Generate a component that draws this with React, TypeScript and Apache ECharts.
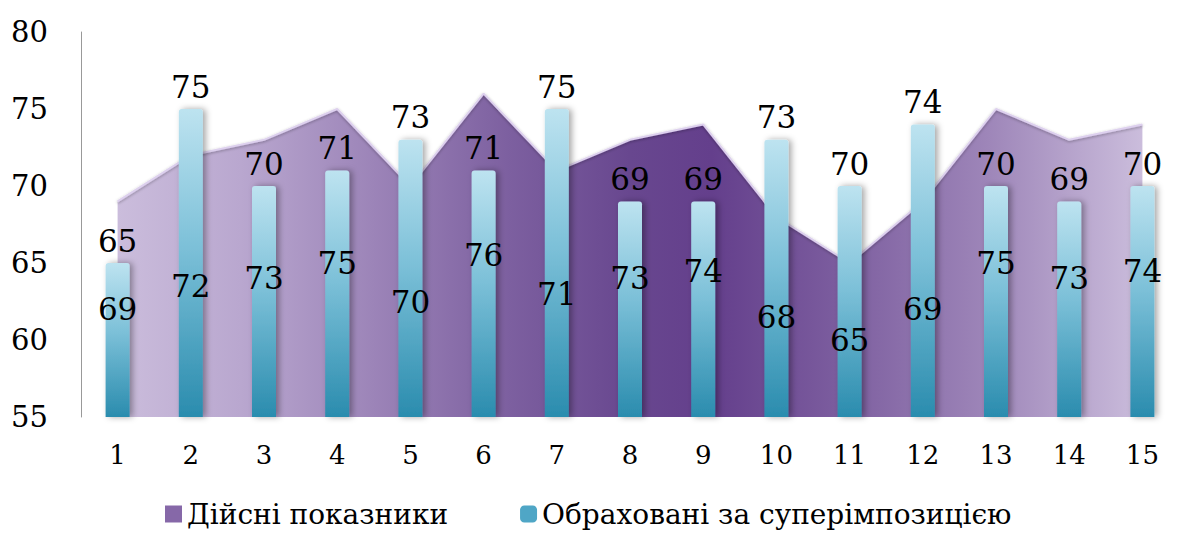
import React, { useEffect, useRef } from "react";
import * as echarts from "echarts";

const categories = ["1", "2", "3", "4", "5", "6", "7", "8", "9", "10", "11", "12", "13", "14", "15"];
const actualName = "Дійсні показники";
const computedName = "Обраховані за суперімпозицією";
const actualValues = [69, 72, 73, 75, 70, 76, 71, 73, 74, 68, 65, 69, 75, 73, 74];
const computedValues = [65, 75, 70, 71, 73, 71, 75, 69, 69, 73, 70, 74, 70, 69, 70];
const yMin = 55;
const yMax = 80;
const yInterval = 5;

const FONT = "DejaVu Serif";

export default function App() {
  const ref = useRef<HTMLDivElement>(null);

  useEffect(() => {
    if (!ref.current) return;
    const chart = echarts.init(ref.current, null, { renderer: "svg" });

    const areaGradient = new echarts.graphic.LinearGradient(0, 0, 1, 0, [
      { offset: 0, color: "#cbbddc" },
      { offset: 0.12, color: "#b9a7cf" },
      { offset: 0.25, color: "#9c84b8" },
      { offset: 0.38, color: "#7d60a0" },
      { offset: 0.5, color: "#68478f" },
      { offset: 0.58, color: "#643f8c" },
      { offset: 0.7, color: "#7b5c9e" },
      { offset: 0.85, color: "#9e86b9" },
      { offset: 1, color: "#cbbddc" },
    ]);

    const barGradient = new echarts.graphic.LinearGradient(0, 0, 0, 1, [
      { offset: 0, color: "#bde3f0" },
      { offset: 0.45, color: "#7cc0d8" },
      { offset: 1, color: "#2a8cae" },
    ]);

    chart.setOption({
      animation: false,
      textStyle: { fontFamily: FONT },
      grid: { left: 81, right: -10, top: 32, bottom: 118, containLabel: false },
      legend: {
        data: [
          { name: actualName, icon: "rect", itemStyle: { color: "#8668a8" } },
          { name: computedName, icon: "roundRect", itemStyle: { color: "#4fa6c6" } },
        ],
        left: 160,
        top: 495,
        itemWidth: 17,
        itemHeight: 17,
        itemGap: 72,
        textStyle: { fontFamily: FONT, fontSize: 28, color: "#000" },
      },
      xAxis: {
        type: "category",
        data: categories,
        boundaryGap: true,
        axisLine: {
          lineStyle: { color: "#888", width: 2, shadowColor: "rgba(0,0,0,0.4)", shadowBlur: 4, shadowOffsetY: 2 },
        },
        axisTick: { show: false },
        axisLabel: { fontFamily: FONT, fontSize: 26, color: "#000", margin: 25 },
      },
      yAxis: {
        type: "value",
        min: yMin,
        max: yMax,
        interval: yInterval,
        axisLine: { show: true, lineStyle: { color: "#999", width: 1 } },
        axisTick: { show: false },
        splitLine: { show: false },
        axisLabel: { fontFamily: FONT, fontSize: 29, color: "#000", margin: 33 },
      },
      series: [
        {
          name: actualName,
          type: "line",
          data: actualValues,
          symbol: "none",
          z: 1,
          lineStyle: {
            color: "#ddd0ee",
            width: 2,
            shadowColor: "rgba(0,0,0,0.35)",
            shadowBlur: 3,
            shadowOffsetY: 1,
          },
          areaStyle: { color: areaGradient, opacity: 1, origin: "start" },
        },
        {
          name: computedName,
          type: "bar",
          data: computedValues,
          barWidth: 24,
          z: 2,
          itemStyle: {
            color: barGradient,
            borderRadius: [3, 3, 0, 0],
            shadowColor: "rgba(0,0,0,0.35)",
            shadowBlur: 6,
            shadowOffsetX: 3,
          },
          label: {
            show: true,
            position: "top",
            distance: 7,
            fontFamily: FONT,
            fontSize: 31,
            color: "#000",
          },
        },
        {
          name: "actualLabels",
          type: "bar",
          data: actualValues,
          barWidth: 24,
          barGap: "-100%",
          silent: true,
          z: 3,
          itemStyle: { color: "rgba(0,0,0,0)" },
          label: {
            show: true,
            position: "inside",
            fontFamily: FONT,
            fontSize: 31,
            color: "#000",
          },
        },
      ],
    });

    return () => chart.dispose();
  }, []);

  return (
    <div
      ref={ref}
      style={{ position: "fixed", left: 0, top: 0, width: 1179, height: 535, background: "#fff" }}
    />
  );
}
